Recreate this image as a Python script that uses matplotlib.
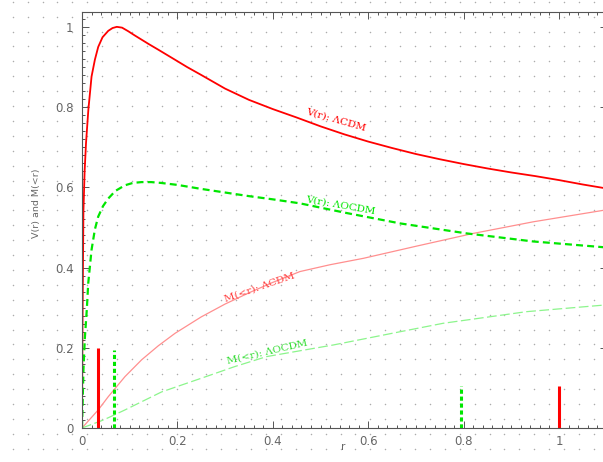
import numpy as np
import matplotlib
matplotlib.use("Agg")
import matplotlib.pyplot as plt
from matplotlib.ticker import MultipleLocator, FuncFormatter

# V(r): LambdaCDM (solid red)
r_v_lcdm = [0, 0.001, 0.003, 0.0055, 0.0084, 0.0133, 0.02, 0.027, 0.034,
            0.043, 0.055, 0.064, 0.073, 0.084, 0.097, 0.11, 0.125, 0.14,
            0.16, 0.195, 0.22, 0.25, 0.3, 0.35, 0.4, 0.45, 0.5, 0.55, 0.6,
            0.65, 0.7, 0.75, 0.8, 0.85, 0.9, 0.95, 1.0, 1.05, 1.1]
v_lcdm = [0, 0.25, 0.54, 0.64, 0.71, 0.793, 0.876, 0.918, 0.95,
          0.974, 0.99, 0.997, 1.0, 0.998, 0.989, 0.979, 0.968, 0.957,
          0.943, 0.918, 0.9, 0.88, 0.846, 0.818, 0.795, 0.774, 0.752, 0.732, 0.714,
          0.698, 0.683, 0.670, 0.658, 0.647, 0.637, 0.628, 0.618, 0.607, 0.597]

# V(r): LambdaOCDM (dashed green)
r_v_locdm = [0, 0.003, 0.006, 0.01, 0.013, 0.02, 0.027, 0.034, 0.044, 0.055,
             0.07, 0.09, 0.107, 0.125, 0.145, 0.165, 0.2, 0.25, 0.3, 0.35,
             0.4, 0.457, 0.55, 0.667, 0.807, 0.946, 1.1]
v_locdm = [0, 0.145, 0.225, 0.294, 0.36, 0.444, 0.495, 0.527, 0.553, 0.572,
           0.591, 0.605, 0.611, 0.613, 0.613, 0.611, 0.606, 0.596, 0.587, 0.578,
           0.57, 0.56, 0.537, 0.51, 0.485, 0.465, 0.45]

# M(<r): LambdaCDM (thin light red)
r_m_lcdm = [0, 0.034, 0.055, 0.09, 0.125, 0.16, 0.195, 0.25, 0.3, 0.35, 0.4,
            0.457, 0.52, 0.59, 0.7, 0.82, 0.946, 1.1]
m_lcdm = [0, 0.045, 0.078, 0.128, 0.17, 0.205, 0.236, 0.277, 0.309, 0.337,
          0.363, 0.39, 0.407, 0.423, 0.453, 0.485, 0.514, 0.544]

# M(<r): LambdaOCDM (thin light green, dashed)
r_m_locdm = [0, 0.045, 0.09, 0.167, 0.25, 0.32, 0.387, 0.527, 0.667, 0.757,
             0.932, 1.1]
m_locdm = [0, 0.02, 0.045, 0.09, 0.124, 0.153, 0.178, 0.207, 0.24, 0.261,
           0.29, 0.307]

# vertical markers
bar_red_r = [0.033, 1.0]
bar_red_h = [0.2, 0.105]
bar_green_r = [0.067, 0.795]
bar_green_h = [0.195, 0.105]

xticks = [0, 0.2, 0.4, 0.6, 0.8, 1.0]
yticks = [0, 0.2, 0.4, 0.6, 0.8, 1.0]

RED = "#ff0000"
GREEN = "#00e600"
PINK = "#ff8f8f"
LGREEN = "#8cf58c"
GREY = "#666666"

plt.rcParams["lines.scale_dashes"] = False

W, H = 603, 462
fig = plt.figure(figsize=(W / 100, H / 100), dpi=100)
fig.patch.set_facecolor("white")

# dotted paper background
bg = fig.add_axes([0, 0, 1, 1], zorder=0)
bg.set_xlim(0, W)
bg.set_ylim(H, 0)
bg.axis("off")
gx, gy = np.meshgrid(np.arange(12.7, W, 14.9), np.arange(1.7, H, 14.9))
bg.scatter(gx.ravel(), gy.ravel(), s=1.2, c="#acacac", linewidths=0)

x0, x1 = 82, 82 + 1.1 * 477
y0, y1 = 428, 12
ax = fig.add_axes([x0 / W, 1 - y0 / H, (x1 - x0) / W, (y0 - y1) / H], zorder=1)
ax.patch.set_alpha(0)
ax.set_xlim(0, 1.1)
ax.set_ylim(0, 1.037)

ax.plot(r_m_lcdm, m_lcdm, color=PINK, lw=0.9)
ax.plot(r_m_locdm, m_locdm, color=LGREEN, lw=0.9, dashes=(7, 2.5))
ax.plot(r_v_lcdm, v_lcdm, color=RED, lw=1.3)
ax.plot(r_v_locdm, v_locdm, color=GREEN, lw=1.6, dashes=(5, 3))
ax.vlines(bar_red_r, 0, bar_red_h, color=RED, lw=2.2)
ax.vlines(bar_green_r, 0, bar_green_h, color=GREEN, lw=2.2, linestyles=(0, (3, 2)))

tfont = dict(family="DejaVu Serif", fontsize=7.5, ha="center", va="center",
             rotation_mode="anchor")
ax.text(0.533, 0.768, "V(r): ΛCDM", color=RED, rotation=-16, **tfont)
ax.text(0.543, 0.556, "V(r): ΛOCDM", color=GREEN, rotation=-10, **tfont)
ax.text(0.373, 0.352, "M(<r): ΛCDM", color="#ff4040", rotation=19, **tfont)
ax.text(0.388, 0.19, "M(<r): ΛOCDM", color="#33dd33", rotation=13, **tfont)

ax.xaxis.set_minor_locator(MultipleLocator(0.02))
ax.yaxis.set_minor_locator(MultipleLocator(0.02))
ax.set_xticks(xticks)
ax.set_yticks(yticks)
fmt = FuncFormatter(lambda v, p: f"{v:g}")
ax.xaxis.set_major_formatter(fmt)
ax.yaxis.set_major_formatter(fmt)
ax.tick_params(which="both", direction="in", top=True, right=True,
               color="#555555", width=0.7, labelsize=8.5, labelcolor=GREY)
ax.tick_params(which="major", length=5)
ax.tick_params(which="minor", length=2.5)
ax.tick_params(axis="y", pad=6)
ax.tick_params(axis="x", pad=5)
for s in ax.spines.values():
    s.set_color("#555555")
    s.set_linewidth(0.8)

fig.text(37 / W, 1 - 203 / H, "V(r) and M(<r)", rotation=90, ha="center",
         va="center", fontsize=6.8, color=GREY)
fig.text(343 / W, 1 - 447 / H, "r", ha="center", va="center",
         fontsize=7.5, color=GREY)

fig.savefig("out.png", dpi=100)
